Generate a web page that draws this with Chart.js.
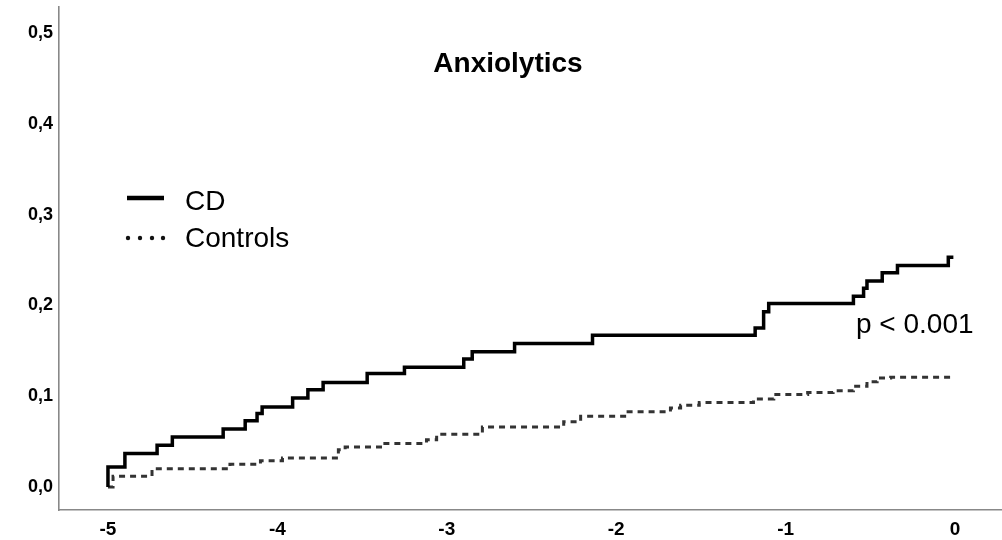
<!DOCTYPE html>
<html>
<head>
<meta charset="utf-8">
<script src="https://cdn.jsdelivr.net/npm/chart.js@4/dist/chart.umd.min.js"></script>
<style>
  html, body { margin: 0; padding: 0; background: #fff; }
  #wrap { width: 1002px; height: 540px; position: relative; }
</style>
</head>
<body>
<div id="wrap"><canvas id="c" width="1002" height="540"></canvas></div>
<script>
// ---- data ----
const titleText = 'Anxiolytics';
const pText = 'p < 0.001';
const seriesNames = ['CD', 'Controls'];

const cdX = [-5.00, -5.00, -4.90, -4.71, -4.62, -4.32, -4.19, -4.12, -4.09, -3.91, -3.82, -3.73, -3.47, -3.25, -2.90, -2.85, -2.60, -2.14, -1.18, -1.13, -1.10, -0.60, -0.54, -0.52, -0.43, -0.34, -0.04, -0.01];
const cdY = [0.000, 0.022, 0.037, 0.046, 0.055, 0.064, 0.073, 0.081, 0.088, 0.098, 0.107, 0.115, 0.125, 0.132, 0.141, 0.149, 0.158, 0.167, 0.175, 0.193, 0.202, 0.210, 0.219, 0.227, 0.236, 0.244, 0.253, 0.253];

const ctrlX = [-5.00, -4.97, -4.74, -4.28, -4.10, -3.97, -3.64, -3.60, -3.38, -3.12, -3.06, -2.79, -2.31, -2.21, -1.94, -1.68, -1.62, -1.51, -1.19, -1.07, -0.87, -0.72, -0.60, -0.52, -0.46, -0.38, -0.01];
const ctrlY = [0.000, 0.012, 0.020, 0.025, 0.029, 0.032, 0.041, 0.044, 0.048, 0.052, 0.058, 0.066, 0.072, 0.078, 0.083, 0.087, 0.090, 0.093, 0.097, 0.102, 0.104, 0.106, 0.111, 0.116, 0.120, 0.121, 0.121];

const xTicks = [-5, -4, -3, -2, -1, 0];
const xTickLabels = ['-5', '-4', '-3', '-2', '-1', '0'];
const yTicks = [0, 0.1, 0.2, 0.3, 0.4, 0.5];
const yTickLabels = ['0,0', '0,1', '0,2', '0,3', '0,4', '0,5'];

// ---- chart ----
const toPts = (xs, ys) => xs.map((x, i) => ({ x: x, y: ys[i] }));
const FONT = '"Liberation Sans", Arial, Helvetica, sans-serif';

const overlay = {
  id: 'overlay',
  afterDraw(chart) {
    const ctx = chart.ctx;
    ctx.save();
    ctx.fillStyle = '#000';
    ctx.textBaseline = 'alphabetic';
    // title
    ctx.font = 'bold 28px ' + FONT;
    ctx.textAlign = 'center';
    ctx.fillText(titleText, 508, 72);
    // p value
    ctx.font = '28px ' + FONT;
    ctx.textAlign = 'left';
    ctx.fillText(pText, 856, 333);
    // legend
    const ds = chart.data.datasets;
    ctx.fillText(ds[0].label, 185, 210);
    ctx.fillText(ds[1].label, 185, 247);
    ctx.strokeStyle = '#000';
    ctx.lineWidth = 4.5;
    ctx.lineCap = 'butt';
    ctx.beginPath(); ctx.moveTo(127, 198); ctx.lineTo(164, 198); ctx.stroke();
    ctx.fillStyle = '#111';
    [128, 140, 152, 163].forEach(x => {
      ctx.beginPath(); ctx.arc(x, 238, 2.2, 0, Math.PI * 2); ctx.fill();
    });
    ctx.restore();
  }
};

new Chart(document.getElementById('c'), {
  type: 'line',
  data: {
    datasets: [
      {
        label: seriesNames[0],
        data: toPts(cdX, cdY),
        borderColor: '#000',
        borderWidth: 3.5,
        stepped: 'before',
        pointRadius: 0,
        fill: false
      },
      {
        label: seriesNames[1],
        data: toPts(ctrlX, ctrlY),
        borderColor: '#333',
        borderWidth: 3,
        borderDash: [6, 5],
        stepped: 'before',
        pointRadius: 0,
        fill: false
      }
    ]
  },
  options: {
    responsive: false,
    animation: false,
    devicePixelRatio: 1,
    layout: { padding: { top: 7, right: 0, left: 0, bottom: 0 } },
    plugins: { legend: { display: false }, tooltip: { enabled: false }, title: { display: false } },
    scales: {
      x: {
        type: 'linear',
        min: -5.289,
        max: 0.277,
        afterBuildTicks: s => { s.ticks = xTicks.map(v => ({ value: v })); },
        afterFit: s => { s.height = 30; s.paddingLeft = 0; s.paddingRight = 0; },
        ticks: {
          callback: (v) => { const i = xTicks.indexOf(v); return i >= 0 ? xTickLabels[i] : ''; },
          font: { family: FONT, size: 19, weight: 'bold' },
          color: '#000',
          padding: 8,
          maxRotation: 0,
          autoSkip: false
        },
        grid: { display: true, drawOnChartArea: false, drawTicks: false },
        border: { display: true, color: '#888', width: 1.6 }
      },
      y: {
        type: 'linear',
        min: -0.0253,
        max: 0.5286,
        afterBuildTicks: s => { s.ticks = yTicks.map(v => ({ value: v })); },
        afterFit: s => { s.width = 59; s.paddingTop = 0; s.paddingBottom = 0; },
        ticks: {
          callback: (v) => { const i = yTicks.findIndex(t => Math.abs(t - v) < 1e-9); return i >= 0 ? yTickLabels[i] : ''; },
          font: { family: FONT, size: 18, weight: 'bold' },
          color: '#000',
          padding: 6,
          autoSkip: false
        },
        grid: { display: true, drawOnChartArea: false, drawTicks: false },
        border: { display: true, color: '#888', width: 1.6 }
      }
    }
  },
  plugins: [overlay]
});
</script>
</body>
</html>
